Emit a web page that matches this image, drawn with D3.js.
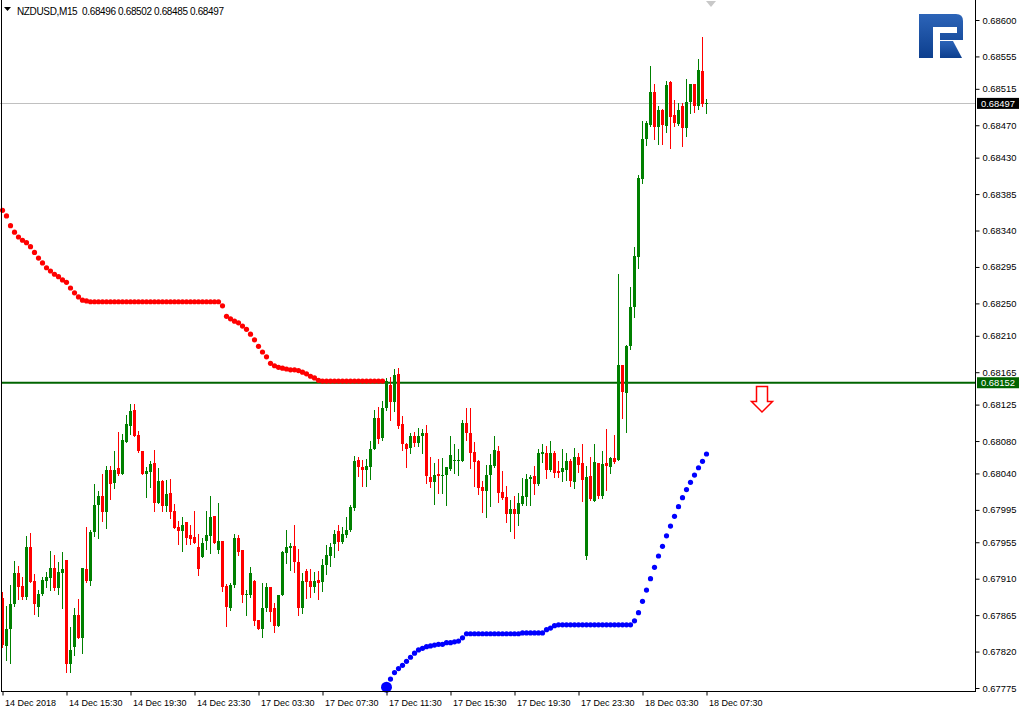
<!DOCTYPE html>
<html><head><meta charset="utf-8">
<script src="https://cdn.jsdelivr.net/npm/d3@7"></script>
<style>
html,body{margin:0;padding:0;background:#fff;}
svg{display:block;}
text{font-family:"Liberation Sans",Arial,sans-serif;}
</style></head><body>
<div id="chart"></div>
<script>
const symbolTitle = "NZDUSD,M15  0.68496 0.68502 0.68485 0.68497";
const timeLabels = ["14 Dec 2018","14 Dec 15:30","14 Dec 19:30","14 Dec 23:30","17 Dec 03:30","17 Dec 07:30","17 Dec 11:30","17 Dec 15:30","17 Dec 19:30","17 Dec 23:30","18 Dec 03:30","18 Dec 07:30"];
const timeLabelIndex = [0,16,32,48,64,80,96,112,128,144,160,176];
const priceTicks = [0.68600,0.68555,0.68515,0.68470,0.68430,0.68385,0.68340,0.68295,0.68250,0.68210,0.68165,0.68125,0.68080,0.68040,0.67995,0.67955,0.67910,0.67865,0.67820,0.67775];
const levelPrice = 0.68152;
const bidPrice = 0.68497;

const open = [
0.67886,0.67827,0.67848,0.67879,0.67917,0.67901,0.67887,0.67949,0.67907,0.67875,
0.67891,0.67907,0.67911,0.67923,0.67899,0.67917,0.67933,0.67805,0.67826,0.67865,
0.67837,0.67922,0.67907,0.67968,0.68001,0.68012,0.67992,0.68044,0.68028,0.68047,
0.68039,0.68079,0.68099,0.68118,0.68087,0.68068,0.68039,0.68042,0.68053,0.68003,
0.68031,0.68000,0.68016,0.67994,0.67974,0.67969,0.67980,0.67964,0.67962,0.67949,
0.67937,0.67957,0.67963,0.67987,0.67945,0.67957,0.67901,0.67874,0.67902,0.67960,
0.67945,0.67890,0.67890,0.67907,0.67859,0.67848,0.67874,0.67900,0.67874,0.67852,
0.67890,0.67942,0.67948,0.67950,0.67931,0.67874,0.67920,0.67907,0.67900,0.67908,
0.67906,0.67927,0.67938,0.67953,0.67969,0.67955,0.67964,0.67970,0.67997,0.68057,
0.68048,0.68044,0.68048,0.68070,0.68109,0.68084,0.68121,0.68149,0.68128,0.68163,
0.68101,0.68076,0.68071,0.68086,0.68078,0.68086,0.68090,0.68036,0.68029,0.68039,
0.68037,0.68038,0.68045,0.68055,0.68055,0.68055,0.68102,0.68090,0.68066,0.68055,
0.68023,0.68018,0.68038,0.68049,0.68068,0.68017,0.68011,0.67990,0.67996,0.67990,
0.68002,0.68011,0.68033,0.68037,0.68027,0.68064,0.68065,0.68044,0.68065,0.68043,
0.68042,0.68044,0.68055,0.68029,0.68060,0.68053,0.67938,0.68037,0.68006,0.68053,
0.68012,0.68053,0.68048,0.68059,0.68057,0.68174,0.68139,0.68197,0.68246,0.68307,
0.68404,0.68453,0.68470,0.68511,0.68468,0.68489,0.68469,0.68523,0.68483,0.68472,
0.68494,0.68467,0.68499,0.68521,0.68494,0.68537,0.68496];
const high = [
0.67894,0.67876,0.67902,0.67932,0.67926,0.67912,0.67963,0.67966,0.67916,0.67896,
0.67912,0.67918,0.67944,0.67939,0.67931,0.67943,0.67933,0.67850,0.67874,0.67885,
0.67923,0.67974,0.67970,0.68027,0.68018,0.68039,0.68049,0.68049,0.68068,0.68091,
0.68089,0.68112,0.68126,0.68126,0.68092,0.68068,0.68048,0.68055,0.68069,0.68047,
0.68032,0.68032,0.68033,0.68002,0.67981,0.67986,0.67980,0.67976,0.67994,0.67965,
0.67960,0.67994,0.68012,0.67987,0.68003,0.67957,0.67903,0.67905,0.67965,0.67964,
0.67945,0.67896,0.67924,0.67908,0.67859,0.67905,0.67905,0.67900,0.67880,0.67890,
0.67944,0.67970,0.67954,0.67976,0.67947,0.67917,0.67922,0.67922,0.67918,0.67920,
0.67934,0.67952,0.67954,0.67970,0.67976,0.67974,0.67986,0.68001,0.68062,0.68060,
0.68057,0.68058,0.68080,0.68118,0.68122,0.68130,0.68158,0.68159,0.68169,0.68170,
0.68111,0.68078,0.68090,0.68091,0.68096,0.68095,0.68100,0.68060,0.68053,0.68058,
0.68059,0.68048,0.68086,0.68076,0.68070,0.68106,0.68121,0.68121,0.68079,0.68057,
0.68031,0.68050,0.68064,0.68086,0.68074,0.68043,0.68025,0.68007,0.68012,0.68016,
0.68034,0.68039,0.68038,0.68049,0.68070,0.68076,0.68074,0.68080,0.68068,0.68055,
0.68070,0.68065,0.68058,0.68071,0.68065,0.68076,0.68049,0.68060,0.68076,0.68053,
0.68068,0.68095,0.68060,0.68087,0.68286,0.68174,0.68199,0.68270,0.68320,0.68409,
0.68475,0.68475,0.68543,0.68521,0.68494,0.68490,0.68525,0.68525,0.68501,0.68498,
0.68498,0.68527,0.68521,0.68521,0.68552,0.68579,0.68502];
const low = [
0.67826,0.67810,0.67806,0.67876,0.67885,0.67885,0.67885,0.67906,0.67866,0.67864,
0.67890,0.67900,0.67896,0.67896,0.67891,0.67874,0.67795,0.67795,0.67816,0.67837,
0.67818,0.67906,0.67902,0.67963,0.67960,0.67981,0.67973,0.68008,0.68022,0.68038,
0.68039,0.68079,0.68089,0.68086,0.68066,0.68039,0.68011,0.68023,0.67994,0.68003,
0.67994,0.67994,0.67985,0.67973,0.67953,0.67944,0.67953,0.67953,0.67954,0.67915,
0.67937,0.67947,0.67942,0.67954,0.67942,0.67895,0.67852,0.67871,0.67900,0.67939,
0.67881,0.67865,0.67887,0.67853,0.67848,0.67838,0.67870,0.67858,0.67844,0.67852,
0.67890,0.67929,0.67921,0.67918,0.67865,0.67868,0.67886,0.67887,0.67894,0.67885,
0.67895,0.67916,0.67926,0.67937,0.67945,0.67954,0.67962,0.67969,0.67995,0.68037,
0.68025,0.68025,0.68033,0.68070,0.68078,0.68081,0.68118,0.68106,0.68117,0.68096,
0.68069,0.68048,0.68065,0.68074,0.68074,0.68065,0.68028,0.68023,0.68002,0.68016,
0.68016,0.68001,0.68044,0.68041,0.68038,0.68055,0.68081,0.68047,0.68025,0.68015,
0.67992,0.67986,0.68000,0.68048,0.68005,0.68008,0.67980,0.67969,0.67960,0.67976,
0.68001,0.68001,0.68001,0.68015,0.68026,0.68054,0.68034,0.68043,0.68036,0.68036,
0.68031,0.68032,0.68025,0.68022,0.68042,0.68006,0.67934,0.68007,0.68006,0.68010,
0.68010,0.68020,0.68041,0.68053,0.68057,0.68108,0.68091,0.68194,0.68233,0.68294,
0.68399,0.68446,0.68469,0.68453,0.68447,0.68447,0.68462,0.68442,0.68469,0.68470,
0.68444,0.68457,0.68485,0.68486,0.68490,0.68494,0.68485];
const close = [
0.67828,0.67848,0.67879,0.67917,0.67900,0.67887,0.67949,0.67906,0.67879,0.67891,
0.67908,0.67912,0.67923,0.67899,0.67918,0.67922,0.67805,0.67822,0.67865,0.67837,
0.67923,0.67907,0.67968,0.68001,0.68012,0.67992,0.68044,0.68027,0.68044,0.68039,
0.68081,0.68101,0.68117,0.68086,0.68068,0.68039,0.68043,0.68052,0.68003,0.68031,
0.68000,0.68015,0.67992,0.67973,0.67969,0.67976,0.67960,0.67959,0.67954,0.67922,
0.67954,0.67964,0.67986,0.67954,0.67957,0.67900,0.67875,0.67902,0.67960,0.67943,
0.67890,0.67891,0.67917,0.67858,0.67848,0.67874,0.67900,0.67869,0.67852,0.67890,
0.67943,0.67949,0.67950,0.67931,0.67874,0.67907,0.67906,0.67900,0.67907,0.67905,
0.67927,0.67939,0.67949,0.67965,0.67955,0.67965,0.67970,0.67999,0.68055,0.68048,
0.68044,0.68049,0.68070,0.68109,0.68083,0.68121,0.68154,0.68128,0.68162,0.68099,
0.68076,0.68070,0.68086,0.68078,0.68086,0.68090,0.68037,0.68029,0.68038,0.68037,
0.68038,0.68048,0.68063,0.68057,0.68057,0.68102,0.68090,0.68065,0.68054,0.68022,
0.68018,0.68038,0.68050,0.68069,0.68016,0.68010,0.67990,0.67996,0.67990,0.68003,
0.68012,0.68033,0.68036,0.68027,0.68065,0.68066,0.68044,0.68065,0.68041,0.68041,
0.68047,0.68055,0.68031,0.68060,0.68050,0.68032,0.68036,0.68008,0.68054,0.68012,
0.68052,0.68049,0.68059,0.68054,0.68174,0.68141,0.68197,0.68246,0.68309,0.68405,
0.68453,0.68473,0.68511,0.68468,0.68489,0.68470,0.68520,0.68480,0.68473,0.68489,
0.68467,0.68499,0.68521,0.68494,0.68538,0.68496,0.68497];

// Parabolic SAR above price (bars 0..95) and below price (bars 96..176)
const sarAbove = [
0.68365,0.68358,0.68346,0.68338,0.68332,0.68328,0.68325,0.68320,0.68313,0.68306,
0.68300,0.68294,0.68290,0.68286,0.68283,0.68279,0.68276,0.68269,0.68263,0.68258,
0.68254,0.68253,0.68252,0.68252,0.68252,0.68252,0.68252,0.68252,0.68252,0.68252,
0.68252,0.68252,0.68252,0.68252,0.68252,0.68252,0.68252,0.68252,0.68252,0.68252,
0.68252,0.68252,0.68252,0.68252,0.68252,0.68252,0.68252,0.68252,0.68252,0.68252,
0.68252,0.68252,0.68252,0.68252,0.68252,0.68247,0.68234,0.68231,0.68228,0.68226,
0.68222,0.68218,0.68212,0.68205,0.68197,0.68190,0.68184,0.68176,0.68173,0.68171,
0.68170,0.68169,0.68168,0.68168,0.68167,0.68165,0.68163,0.68160,0.68158,0.68155,
0.68154,0.68154,0.68154,0.68154,0.68154,0.68154,0.68154,0.68154,0.68154,0.68154,
0.68154,0.68154,0.68154,0.68154,0.68154,0.68154];
const sarBelowStart = 96;
const sarBelow = [
0.67776,0.67786,0.67794,0.67799,0.67803,0.67808,0.67813,0.67818,0.67822,0.67824,
0.67826,0.67827,0.67828,0.67829,0.67829,0.67831,0.67831,0.67832,0.67833,0.67837,
0.67842,0.67842,0.67842,0.67842,0.67842,0.67842,0.67842,0.67842,0.67842,0.67842,
0.67842,0.67842,0.67842,0.67842,0.67843,0.67843,0.67843,0.67843,0.67843,0.67843,
0.67847,0.67849,0.67852,0.67853,0.67853,0.67853,0.67853,0.67853,0.67853,0.67853,
0.67853,0.67853,0.67853,0.67853,0.67853,0.67853,0.67853,0.67853,0.67853,0.67853,
0.67853,0.67853,0.67858,0.67868,0.67882,0.67896,0.67910,0.67924,0.67938,0.67950,
0.67963,0.67975,0.67987,0.67999,0.68010,0.68020,0.68029,0.68038,0.68047,0.68055,
0.68064];

const W = 1019, H = 712;
const plotRight = 975, plotBottom = 691;
const svg = d3.select("#chart").append("svg").attr("width", W).attr("height", H);
svg.append("rect").attr("width", W).attr("height", H).attr("fill", "#fff");

const x = d3.scaleLinear().domain([0, 176]).range([2, 706]);
const y = d3.scaleLinear().domain([0.67775, 0.68600]).range([688, 20]);

// header
svg.append("path").attr("d", "M4,7 L11,7 L7.5,11 Z").attr("fill", "#000");
svg.append("text").attr("x", 17).attr("y", 14.5).attr("font-size", 10).attr("fill", "#000")
  .attr("xml:space", "preserve").style("white-space", "pre")
  .attr("textLength", 207).attr("lengthAdjust", "spacing").text(symbolTitle);

// shift marker
svg.append("path").attr("d", "M706,1 L716,1 L711,7 Z").attr("fill", "#c8c8c8");

// logo
const defs = svg.append("defs");
const lg = defs.append("linearGradient").attr("id", "lg").attr("x1", 0).attr("y1", 0).attr("x2", 0).attr("y2", 1);
lg.append("stop").attr("offset", 0).attr("stop-color", "#2c64b8");
lg.append("stop").attr("offset", 1).attr("stop-color", "#0d3f8e");
const logo = svg.append("g").attr("fill", "url(#lg)");
logo.append("path").attr("d", "M919,14 H956 Q963,14 963,21 V40 H940 V33 H957 V27 H933 V58 H919 Z");
logo.append("path").attr("d", "M940,41 H953 L962,58 H940 Z");

// bid line
svg.append("line").attr("x1", 0).attr("x2", plotRight).attr("y1", Math.round(y(bidPrice)) + 0.5).attr("y2", Math.round(y(bidPrice)) + 0.5)
  .attr("stroke", "#c0c0c0").attr("stroke-width", 1);

// level line
svg.append("line").attr("x1", 2).attr("x2", plotRight).attr("y1", y(levelPrice)).attr("y2", y(levelPrice))
  .attr("stroke", "#006400").attr("stroke-width", 2);

// candles
const idx = d3.range(open.length);
const up = i => close[i] >= open[i];
const cg = svg.append("g").attr("shape-rendering", "crispEdges");
cg.selectAll("line.w").data(idx).join("line").attr("class", "w")
  .attr("x1", i => Math.round(x(i)) + 0.5).attr("x2", i => Math.round(x(i)) + 0.5)
  .attr("y1", i => Math.round(y(high[i]))).attr("y2", i => Math.round(y(low[i])) + 1)
  .attr("stroke", i => up(i) ? "#008000" : "#ff0000").attr("stroke-width", 1);
cg.selectAll("rect.b").data(idx).join("rect").attr("class", "b")
  .attr("x", i => Math.round(x(i)) - 1).attr("width", 3)
  .attr("y", i => Math.round(y(Math.max(open[i], close[i]))))
  .attr("height", i => Math.max(1, Math.round(y(Math.min(open[i], close[i]))) - Math.round(y(Math.max(open[i], close[i])))))
  .attr("fill", i => up(i) ? "#008000" : "#ff0000");

// SAR dots
svg.append("g").selectAll("circle").data(sarAbove).join("circle")
  .attr("cx", (d, i) => x(i) + 0.5).attr("cy", d => y(d)).attr("r", 2.6).attr("fill", "#ff0000");
svg.append("g").selectAll("circle").data(sarBelow).join("circle")
  .attr("cx", (d, i) => x(i + sarBelowStart) + 0.5).attr("cy", d => y(d))
  .attr("r", (d, i) => i === 0 ? 5.5 : 2.6).attr("fill", "#0000ff");

// sell arrow
svg.append("path").attr("d", "M756.5,386.5 H767.5 V401.5 H772.5 L762,412 L751.5,401.5 H756.5 Z")
  .attr("fill", "#fff").attr("stroke", "#ff0000").attr("stroke-width", 1.5);

// frame
const fr = svg.append("g").attr("stroke", "#000").attr("stroke-width", 1).attr("shape-rendering", "crispEdges");
fr.append("line").attr("x1", 1.5).attr("x2", 1.5).attr("y1", 0).attr("y2", plotBottom + 1);
fr.append("line").attr("x1", plotRight + 0.5).attr("x2", plotRight + 0.5).attr("y1", 0).attr("y2", plotBottom + 1);
fr.append("line").attr("x1", 1).attr("x2", plotRight + 1).attr("y1", plotBottom + 0.5).attr("y2", plotBottom + 0.5);

// price axis
const yAxis = d3.axisRight(y).tickValues(priceTicks).tickFormat(d3.format(".5f")).tickSize(4).tickPadding(3);
const ya = svg.append("g").attr("transform", `translate(${plotRight + 0.5},0)`).call(yAxis);
ya.select(".domain").remove();
ya.selectAll("text").attr("font-size", 9.4).attr("font-family", "Liberation Sans, Arial, sans-serif").attr("fill", "#000");
ya.selectAll("line").attr("stroke", "#000");

// time axis
const xAxis = d3.axisBottom(x).tickValues(timeLabelIndex).tickFormat((d, i) => timeLabels[i]).tickSize(4).tickPadding(4);
const xa = svg.append("g").attr("transform", `translate(0.5,${plotBottom + 0.5})`).call(xAxis);
xa.select(".domain").remove();
xa.selectAll("text").attr("text-anchor", "start").attr("dx", 2).attr("font-size", 9)
  .attr("font-family", "Liberation Sans, Arial, sans-serif").attr("fill", "#000");
xa.selectAll("line").attr("stroke", "#000");

// price labels
function priceTag(p, bg) {
  const yy = y(p);
  svg.append("rect").attr("x", plotRight + 2).attr("y", yy - 5.5).attr("width", W - plotRight - 2).attr("height", 11).attr("fill", bg);
  svg.append("text").attr("x", plotRight + 6).attr("y", yy).attr("dy", "0.35em").attr("font-size", 9.4)
    .attr("fill", "#fff").text(d3.format(".5f")(p));
}
priceTag(bidPrice, "#000");
priceTag(levelPrice, "#006400");
</script>
</body></html>
